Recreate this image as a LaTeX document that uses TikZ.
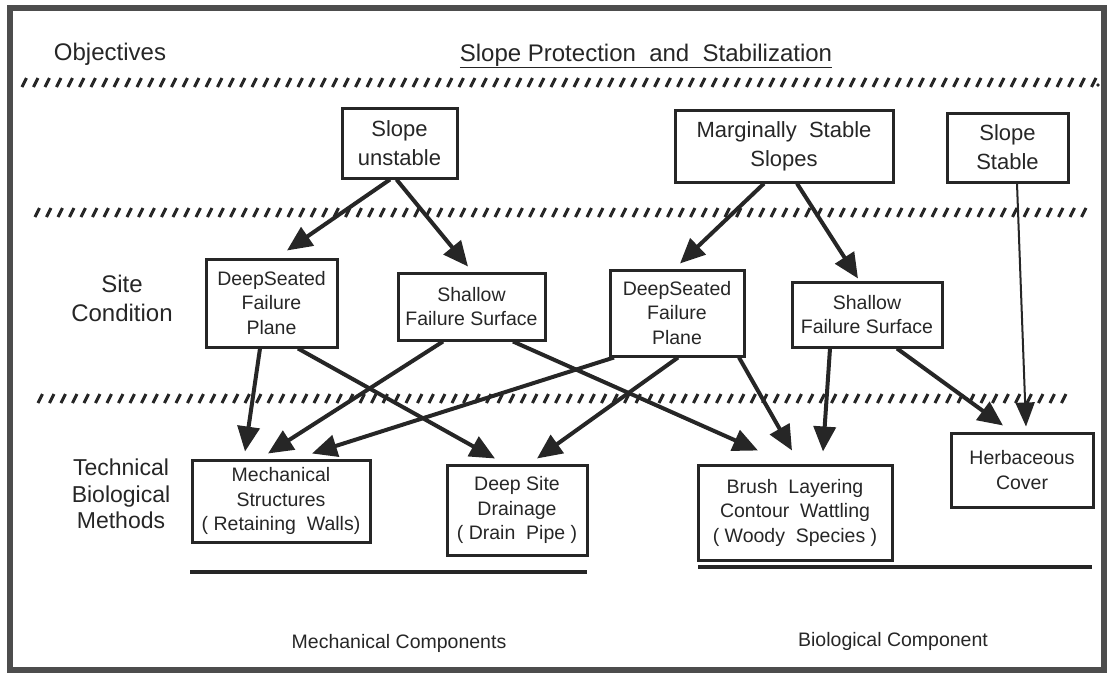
\documentclass[tikz,border=0pt]{standalone}
\usepackage{fontspec}
\setmainfont{Liberation Sans}
\usetikzlibrary{arrows.meta,calc}
\definecolor{ink}{HTML}{262626}
\definecolor{framecol}{HTML}{4D4D4D}
\begin{document}
\begin{tikzpicture}[x=1pt,y=-1pt,
  box/.style={draw=ink, line width=3pt, align=center, inner sep=0pt, text=ink,
    font=\fontsize{19.5}{24.5}\selectfont},
  topbox/.style={box, font=\fontsize{22}{29}\selectfont},
  lab/.style={align=center, text=ink, inner sep=0pt},
  arr/.style={draw=ink, line width=4pt, -{Triangle[length=25pt,width=22pt]}},
  thinarr/.style={draw=ink, line width=2pt, -{Triangle[length=24pt,width=19pt]}},
  hatch/.style={draw=ink, line width=3pt},
  rule/.style={draw=ink, line width=4pt}]
\useasboundingbox (0,0) rectangle (1112,675);
\draw[framecol, line width=6pt] (10,8) rectangle (1104,670);

% header texts
\node[lab, font=\fontsize{24}{28}\selectfont] (obj) at (110,54) {Objectives};
\node[lab, font=\fontsize{24}{28}\selectfont] (title) at (646,56) {\underline{Slope Protection\ \ and\ \ Stabilization}};

% hatched separators
\foreach \i in {0,...,93} \draw[hatch] ({22+\i*11.5},87) -- ++(4.5,-9);
\fill[ink] (1098,85) circle (1.8);
\foreach \i in {0,...,91} \draw[hatch] ({35+\i*11.5},217) -- ++(4.5,-9);
\foreach \i in {0,...,89} \draw[hatch] ({38+\i*11.5},403) -- ++(4.5,-9);

% row labels
\node[lab, font=\fontsize{24}{29}\selectfont] (site) at (122,298) {Site\\Condition};
\node[lab, font=\fontsize{23}{26.5}\selectfont] (tech) at (121,494) {Technical\\Biological\\Methods};

% objective boxes
\node[topbox, minimum width=115, minimum height=70] (su) at (399.5,143) {Slope\\unstable};
\node[topbox, minimum width=218, minimum height=72] (ms) at (784,146) {Marginally\ \ Stable\\Slopes};
\node[topbox, minimum width=121, minimum height=69] (ss) at (1007.5,147.5) {Slope\\Stable};

% site condition boxes
\node[box, minimum width=131, minimum height=88] (dl) at (271.5,303) {DeepSeated\\Failure\\Plane};
\node[box, minimum width=147, minimum height=67] (sl) at (471.5,306.5) {Shallow\\Failure Surface};
\node[box, minimum width=134, minimum height=86] (dr) at (677,313) {DeepSeated\\Failure\\Plane};
\node[box, minimum width=150, minimum height=65] (sr) at (867,314.5) {Shallow\\Failure Surface};

% method boxes
\node[box, minimum width=178, minimum height=82] (mech) at (281,501) {Mechanical\\Structures\\( Retaining\ \ Walls)};
\node[box, minimum width=140, minimum height=90] (drain) at (517,510) {Deep\ Site\\Drainage\\( Drain\ \ Pipe )};
\node[box, minimum width=194, minimum height=95] (brush) at (795,512.5) {Brush\ \ Layering\\Contour\ \ Wattling\\( Woody\ \ Species )};
\node[box, minimum width=142, minimum height=74] (herb) at (1022,470) {Herbaceous\\Cover};

% component rules and labels
\coordinate (m1) at (190,572);
\coordinate (m2) at (587,572);
\coordinate (b1) at (698,567);
\coordinate (b2) at (1092,567);
\draw[rule] (m1) -- (m2);
\draw[rule] (b1) -- (b2);
\node[lab, font=\fontsize{19.5}{24}\selectfont] (mc) at (399,643) {Mechanical Components};
\node[lab, font=\fontsize{19.5}{24}\selectfont] (bc) at (893,641) {Biological Component};

% connectors
\draw[arr] ([xshift=-9.5pt]su.south) -- ([xshift=15.5pt,yshift=7pt]dl.north);
\draw[arr] ([xshift=-3pt]su.south) -- ([xshift=-3.5pt,yshift=5pt]sl.north);
\draw[arr] ([xshift=-20pt]ms.south) -- ([xshift=3pt,yshift=5pt]dr.north);
\draw[arr] ([xshift=13pt]ms.south) -- ([xshift=-9pt,yshift=2pt]sr.north);
\draw[thinarr] ([xshift=9.5pt]ss.south) -- ([xshift=4pt,yshift=5pt]herb.north);

\draw[arr] ([xshift=-11.5pt]dl.south) -- ([xshift=-36pt,yshift=7pt]mech.north);
\draw[arr] ([xshift=26.5pt]dl.south) -- ([xshift=-22pt,yshift=5pt]drain.north);
\draw[arr] ([xshift=-28.5pt]sl.south) -- ([xshift=-13pt,yshift=5pt]mech.north);
\draw[arr] ([xshift=41.5pt]sl.south) -- ([xshift=-37pt,yshift=13pt]brush.north);
\draw[arr] ([xshift=-63pt]dr.south) -- ([xshift=31pt,yshift=5pt]mech.north);
\draw[arr] ([xshift=1pt]dr.south) -- ([xshift=20pt,yshift=5pt]drain.north);
\draw[arr] ([xshift=62pt]dr.south) -- ([xshift=-3pt,yshift=13pt]brush.north);
\draw[arr] ([xshift=-37pt]sr.south) -- ([xshift=28pt,yshift=12pt]brush.north);
\draw[arr] ([xshift=30pt]sr.south) -- ([xshift=-19pt,yshift=6pt]herb.north);
\end{tikzpicture}
\end{document}
